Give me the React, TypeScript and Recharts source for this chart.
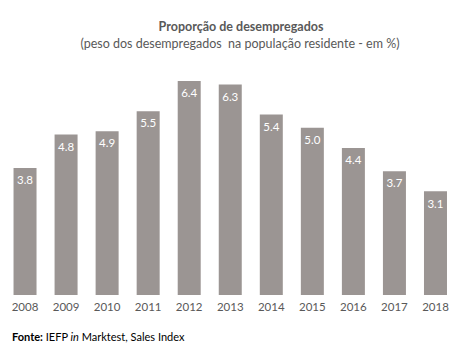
import React from "react";
import { BarChart, Bar, XAxis, YAxis, LabelList } from "recharts";

const years = ["2008", "2009", "2010", "2011", "2012", "2013", "2014", "2015", "2016", "2017", "2018"];
const values = [3.8, 4.8, 4.9, 5.5, 6.4, 6.3, 5.4, 5.0, 4.4, 3.7, 3.1];

const data = years.map((y, i) => ({ year: y, value: values[i] }));

const FONT = "Lato, 'Open Sans', sans-serif";

export default function App() {
  return (
    <div style={{ position: "absolute", left: 0, top: 0, width: 460, height: 358, background: "#fff", fontFamily: FONT }}>
      <div style={{ position: "absolute", left: 0, top: 19, width: 482, textAlign: "center", fontSize: 12.5, fontWeight: 700, color: "#595959" }}>
        Proporção de desempregados
      </div>
      <div style={{ position: "absolute", left: 0, top: 36, width: 480, textAlign: "center", fontSize: 12.5, color: "#595959" }}>
        (peso dos desempregados&nbsp; na população residente - em %)
      </div>
      <div style={{ position: "absolute", left: 12, top: 330, fontSize: 11, color: "#000" }}>
        <b>Fonte:</b> IEFP <i>in</i> Marktest, Sales Index
      </div>
      <div style={{ position: "absolute", left: 0, top: 0 }}>
        <BarChart
          width={460}
          height={358}
          data={data}
          margin={{ top: 61, right: 4, left: 4.5, bottom: 33 }}
          barCategoryGap="22%"
        >
          <XAxis
            dataKey="year"
            axisLine={false}
            tickLine={false}
            interval={0}
            height={30}
            tick={{ fontSize: 11.5, fill: "#595959", fontFamily: FONT }}
          />
          <YAxis hide domain={[0, 7]} />
          <Bar dataKey="value" fill="#9b9593" isAnimationActive={false}>
            <LabelList
              dataKey="value"
              position="insideTop"
              offset={8}
              formatter={(v: number) => v.toFixed(1)}
              style={{ fill: "#ffffff", fontSize: 11.5, fontFamily: FONT }}
            />
          </Bar>
        </BarChart>
      </div>
    </div>
  );
}
